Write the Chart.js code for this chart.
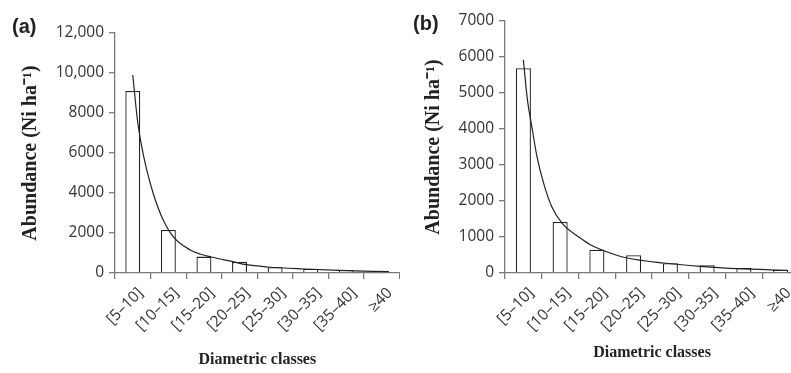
<!DOCTYPE html>
<html>
<head>
<meta charset="utf-8">
<script src="https://cdn.jsdelivr.net/npm/chart.js@4.4.1/dist/chart.umd.min.js"></script>
<style>
  html, body { margin: 0; padding: 0; background: #fff; overflow: hidden; width: 791px; height: 373px; }
  .panel { position: absolute; top: 0; height: 373px; }
  .tag { position: absolute; font: bold 20px "Liberation Sans", Arial, sans-serif; color: #222; }
</style>
</head>
<body>
<div class="panel" style="left:0;width:400px"><canvas id="chart-a" width="400" height="373"></canvas></div>
<div class="panel" style="left:395px;width:404px"><canvas id="chart-b" width="404" height="373"></canvas></div>
<div class="tag" style="left:12px;top:15px">(a)</div>
<div class="tag" style="left:413px;top:12px">(b)</div>
<script>
// diameter classes (shared by both panels)
const classes = ['[5–10]', '[10–15]', '[15–20]', '[20–25]', '[25–30]', '[30–35]', '[35–40]', '≥40'];

// panel (a)
const abundanceA = [9100, 2150, 820, 550, 290, 215, 150, 80];
const fitPosA = [0, 0.13, 0.25, 0.39, 0.57, 0.81, 1.13, 1.6, 1.88, 2.21, 2.82, 3.19, 3.8, 4.82, 5.8, 7.2];
const fitValA = [9900, 7665, 6330, 5165, 4000, 2830, 1830, 1165, 950, 800, 565, 415, 300, 200, 130, 65];
const yTicksA = { max: 12000, step: 2000 };

// panel (b)
const abundanceB = [5690, 1415, 646, 495, 270, 215, 140, 92];
const fitPosB = [0, 0.11, 0.23, 0.37, 0.55, 0.77, 1.05, 1.55, 1.82, 2.5, 2.82, 3.82, 4.82, 5.82, 7.18];
const fitValB = [5917, 4808, 4067, 3235, 2497, 1848, 1387, 971, 785, 508, 416, 277, 185, 119, 72];
const yTicksB = { max: 7000, step: 1000 };

const AXIS = '#7a7a7a';
const INK = '#222';
const tickFont = { family: '"Open Sans", sans-serif', size: 15.5 };
const serifBold = (size) => ({ family: '"Liberation Serif", "Times New Roman", serif', weight: 'bold', size: size });

function makeChart(id, values, fitPos, fitVal, yt, opts) {
    const fitPoints = fitPos.map((p, i) => ({ x: p, y: fitVal[i] }));
    return new Chart(document.getElementById(id), {
        type: 'bar',
        data: {
            labels: classes,
            datasets: [
                {
                    type: 'line',
                    data: fitPoints,
                    xAxisID: 'xFit',
                    borderColor: INK,
                    borderWidth: 1.2,
                    pointRadius: 0,
                    cubicInterpolationMode: 'monotone',
                    order: 0
                },
                {
                    type: 'bar',
                    data: values,
                    xAxisID: 'x',
                    grouped: false,
                    backgroundColor: '#fff',
                    borderColor: INK,
                    borderWidth: 1.3,
                    categoryPercentage: 1,
                    barPercentage: opts.barPct,
                    order: 1
                }
            ]
        },
        options: {
            responsive: false,
            animation: false,
            events: [],
            layout: { padding: { top: opts.top, left: 0, right: 0, bottom: 0 } },
            plugins: { legend: { display: false }, tooltip: { enabled: false } },
            scales: {
                x: {
                    type: 'category',
                    offset: true,
                    border: { color: AXIS, width: 1.3 },
                    grid: { offset: true, drawOnChartArea: false, color: AXIS, tickLength: 6, lineWidth: 1.3 },
                    ticks: { font: tickFont, color: '#333', minRotation: 45, maxRotation: 45, padding: 5, labelOffset: 8, autoSkip: false },
                    title: { display: true, text: 'Diametric classes', font: serifBold(16), color: INK, padding: { top: 0, bottom: opts.xTitlePad } },
                    afterFit: (s) => { s.height = opts.xHeight; }
                },
                xFit: {
                    type: 'linear',
                    display: false,
                    offset: false,
                    grid: { offset: false },
                    min: -0.5,
                    max: 7.5
                },
                y: {
                    min: 0,
                    max: yt.max,
                    border: { color: AXIS, width: 1.3 },
                    grid: { drawOnChartArea: false, color: AXIS, tickLength: 6, lineWidth: 1.3 },
                    ticks: {
                        stepSize: yt.step,
                        font: tickFont,
                        color: '#333',
                        padding: 5,
                        callback: (v) => v >= 10000 ? v.toLocaleString('en-US') : String(v)
                    },
                    title: { display: true, text: 'Abundance (Ni ha⁻¹)', font: serifBold(20), color: INK, padding: { top: opts.yTitlePad, bottom: 0 } },
                    afterFit: (s) => { s.width = opts.yWidth; }
                }
            }
        }
    });
}

makeChart('chart-a', abundanceA, fitPosA, fitValA, yTicksA,
    { top: 33, yWidth: 115, xHeight: 100, barPct: 0.42, xTitlePad: 4, yTitlePad: 19 });
makeChart('chart-b', abundanceB, fitPosB, fitValB, yTicksB,
    { top: 21, yWidth: 110, xHeight: 100, barPct: 0.41, xTitlePad: 11, yTitlePad: 27 });
</script>
</body>
</html>
